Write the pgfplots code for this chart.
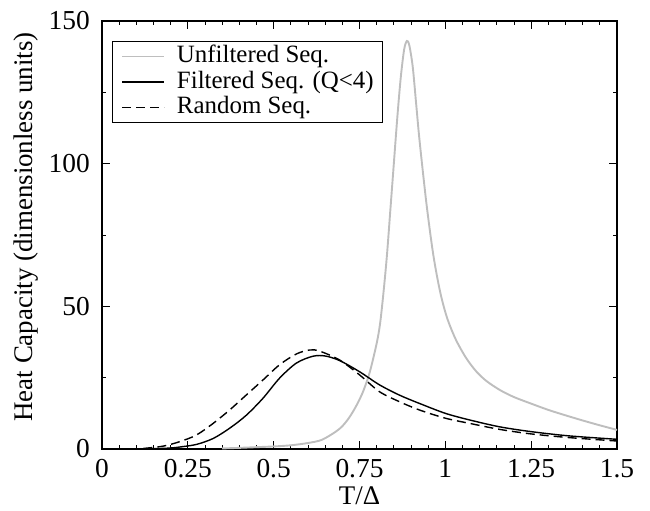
\documentclass[border=0pt]{standalone}
\usepackage{fontspec}
\setmainfont{Liberation Serif}
\usepackage{pgfplots}
\pgfplotsset{compat=1.18}
\definecolor{lgray}{RGB}{190,190,190}
\begin{document}
\begin{tikzpicture}[x=1bp,y=1bp]
\begin{axis}[
  scale only axis,
  width=515bp, height=428bp,
  xmin=0, xmax=1.5, ymin=0, ymax=150,
  xtick={0,0.25,0.5,0.75,1,1.25,1.5},
  xticklabels={0,0.25,0.5,0.75,1,1.25,1.5},
  ytick={0,50,100,150},
  minor xtick={0.05,0.1,...,1.45},
  minor ytick={25,75,125},
  tick align=inside,
  major tick length=8bp, minor tick length=4bp,
  every tick/.style={black, line width=0.9bp},
  axis line style={line width=1.2bp},
  /pgf/number format/assume math mode=true,
  ticklabel style={font=\fontsize{27.5}{30}\selectfont, inner sep=0bp},
  xticklabel style={anchor=base, yshift=-28bp},
  yticklabel style={anchor=east, xshift=-12bp},
  xlabel={T/Δ},
  ylabel={Heat Capacity (dimensionless units)},
  label style={font=\fontsize{27}{30}\selectfont, inner sep=0bp},
  xlabel style={at={(axis description cs:0.5,0)}, anchor=base, yshift=-55bp},
  ylabel style={at={(axis description cs:-0.1476,0.519)}, anchor=center},
  legend cell align=left,
  legend style={at={(0,1)}, anchor=north west, xshift=10bp, yshift=-20bp,
    draw=black, line width=1.2bp, font=\fontsize{25}{26}\selectfont,
    inner xsep=9bp, inner ysep=3bp, row sep=1.5bp, column sep=12bp,
    nodes={inner sep=0bp, text height=18bp, text depth=6bp}},
  legend image code/.code={\draw[#1, line width=1.4bp] (0bp,0bp) -- (42bp,0bp);},
]
\addplot[lgray, line width=1.9bp, smooth] coordinates {
(0.35,0.2) (0.40,0.4) (0.50,0.9) (0.55,1.3) (0.60,2.1) (0.64,3.2) (0.68,6.0)
(0.70,8) (0.72,11) (0.74,15) (0.76,20) (0.78,27) (0.80,37) (0.81,44) (0.82,55)
(0.83,68) (0.84,84) (0.85,100) (0.86,116) (0.87,130) (0.88,140) (0.888,143)
(0.895,141.5) (0.905,134) (0.915,121) (0.925,108) (0.945,86) (0.965,68)
(0.985,55) (1.005,46) (1.03,38.5) (1.06,32) (1.09,27.2) (1.12,23.8) (1.16,20.6)
(1.2,18.2) (1.25,15.9) (1.3,13.7) (1.35,11.8) (1.4,10) (1.45,8.3) (1.5,6.7)
};
\addlegendentry{Unfiltered Seq.}
\addplot[black, line width=1.4bp, smooth] coordinates {
(0.08,0) (0.15,0.1) (0.2,0.35) (0.227,0.7) (0.275,1.6) (0.324,3.7) (0.372,7.3)
(0.42,11.8) (0.469,17.8) (0.517,24.8) (0.566,30.1) (0.614,32.5) (0.65,32.6)
(0.692,31) (0.75,27.1) (0.808,22.5) (0.866,18.9) (0.924,16) (1.0,12.5)
(1.07,10.2) (1.157,7.8) (1.249,6.1) (1.36,4.6) (1.5,3.4)
};
\addlegendentry{Filtered Seq. (Q<4)}
\addplot[black, line width=1.4bp, dash pattern=on 9bp off 5bp, smooth] coordinates {
(0.08,0) (0.12,0.2) (0.178,1) (0.227,2.6) (0.275,4.9) (0.324,9) (0.372,13.7)
(0.42,18.9) (0.469,24.2) (0.517,29.5) (0.566,33.3) (0.605,34.7) (0.634,34.3)
(0.692,31.2) (0.75,26) (0.808,20.1) (0.866,16.6) (0.924,13.7) (1.0,10.8)
(1.07,9) (1.157,6.9) (1.249,5.3) (1.36,4) (1.5,2.8)
};
\addlegendentry{Random Seq.}
\end{axis}
\path (current axis.south west) ++(-102bp,-62bp) rectangle (current axis.north east);
\path (current axis.north east) ++(33bp,21bp);
\end{tikzpicture}
\end{document}
